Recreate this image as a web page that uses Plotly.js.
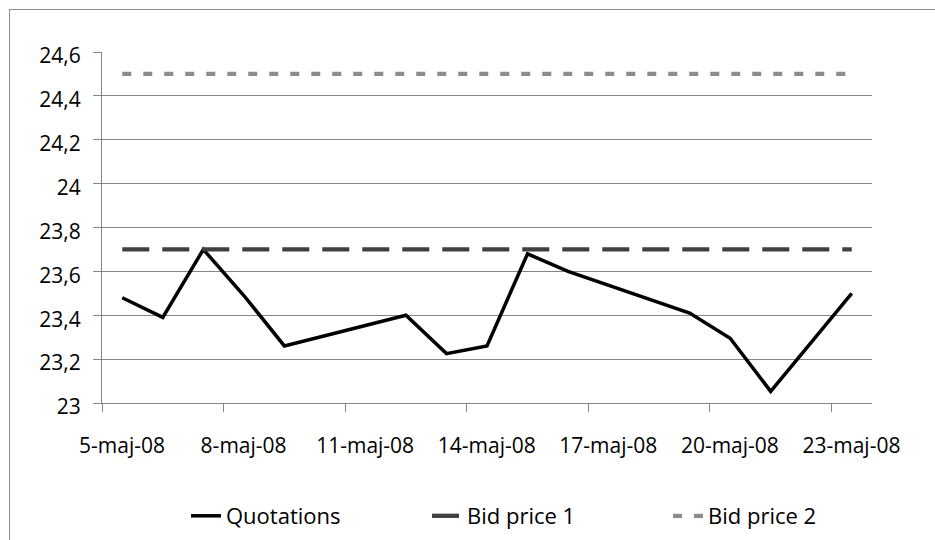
<!DOCTYPE html>
<html>
<head>
<meta charset="utf-8">
<script src="https://cdn.plot.ly/plotly-3.0.1.min.js"></script>
<style>
  html, body { margin: 0; padding: 0; background: #ffffff; }
  #frame { position: absolute; left: 9px; top: 9px; width: 1000px; height: 1000px; border: 1px solid #8c8c8c; box-sizing: border-box; }
  #chart { position: absolute; left: 0; top: 0; width: 935px; height: 540px; }
</style>
</head>
<body>
<div id="frame"></div>
<div id="chart"></div>
<script>
// ---- data ----
const quoteDates = ["2008-05-05","2008-05-06","2008-05-07","2008-05-08","2008-05-09",
                    "2008-05-12","2008-05-13","2008-05-14","2008-05-15","2008-05-16",
                    "2008-05-19","2008-05-20","2008-05-21","2008-05-23"];
const quotations = [23.48, 23.39, 23.70, 23.49, 23.26,
                    23.40, 23.225, 23.26, 23.68, 23.60,
                    23.41, 23.295, 23.053, 23.50];
const bidPrice1 = [23.7, 23.7, 23.7, 23.7, 23.7, 23.7, 23.7, 23.7, 23.7, 23.7, 23.7, 23.7, 23.7, 23.7];
const bidPrice2 = [24.5, 24.5, 24.5, 24.5, 24.5, 24.5, 24.5, 24.5, 24.5, 24.5, 24.5, 24.5, 24.5, 24.5];
const tickDates = ["2008-05-05","2008-05-08","2008-05-11","2008-05-14","2008-05-17","2008-05-20","2008-05-23"];
const tickLabels = ["5-maj-08","8-maj-08","11-maj-08","14-maj-08","17-maj-08","20-maj-08","23-maj-08"];
const seriesNames = ["Quotations","Bid price 1","Bid price 2"];

// points sit in the middle of each day slot (Excel date axis)
const xMid = quoteDates.map(d => d + " 12:00");

const FONT = "Open Sans, sans-serif";
const GRID = "#868686";

const traces = [
  { x: xMid, y: quotations, name: seriesNames[0], type: "scatter", mode: "lines",
    line: { color: "#000000", width: 3.5 } },
  { x: xMid, y: bidPrice1, name: seriesNames[1], type: "scatter", mode: "lines",
    line: { color: "#404040", width: 4.3, dash: "27px,13px" } },
  { x: xMid, y: bidPrice2, name: seriesNames[2], type: "scatter", mode: "lines",
    line: { color: "#8c8c8c", width: 4.3, dash: "9px,12px" } }
];

const layout = {
  width: 935, height: 540,
  paper_bgcolor: "rgba(0,0,0,0)", plot_bgcolor: "rgba(0,0,0,0)",
  margin: { l: 102, r: 63, t: 52, b: 137 },
  separators: ", ",
  font: { family: FONT, color: "#000000" },
  hovermode: false,
  xaxis: {
    type: "date",
    range: ["2008-05-05", "2008-05-24"],
    tickmode: "array", tickvals: tickDates, ticktext: tickLabels,
    ticklabelshift: 20, ticklabelstandoff: 16,
    ticks: "outside", ticklen: 8, tickcolor: GRID, tickwidth: 1,
    showline: true, linecolor: GRID, linewidth: 1,
    showgrid: false, zeroline: false,
    tickfont: { family: FONT, size: 21, color: "#000000" }
  },
  yaxis: {
    range: [23, 24.6], tick0: 23, dtick: 0.2,
    ticks: "outside", ticklen: 8, tickcolor: GRID, tickwidth: 1,
    showline: true, linecolor: GRID, linewidth: 1,
    showgrid: true, gridcolor: GRID, gridwidth: 1,
    zeroline: false, ticklabelstandoff: 8, ticklabelshift: 4,
    tickfont: { family: FONT, size: 21, color: "#000000" }
  },
  showlegend: true,
  legend: {
    orientation: "h",
    xref: "container", yref: "container",
    x: 186 / 935, xanchor: "left",
    y: 1 - 516 / 540, yanchor: "middle",
    valign: "middle",
    entrywidthmode: "pixels", entrywidth: 196,
    font: { family: FONT, size: 22, color: "#000000" },
    bgcolor: "rgba(0,0,0,0)", borderwidth: 0
  }
};

Plotly.newPlot("chart", traces, layout, { staticPlot: true, displayModeBar: false });
</script>
</body>
</html>
